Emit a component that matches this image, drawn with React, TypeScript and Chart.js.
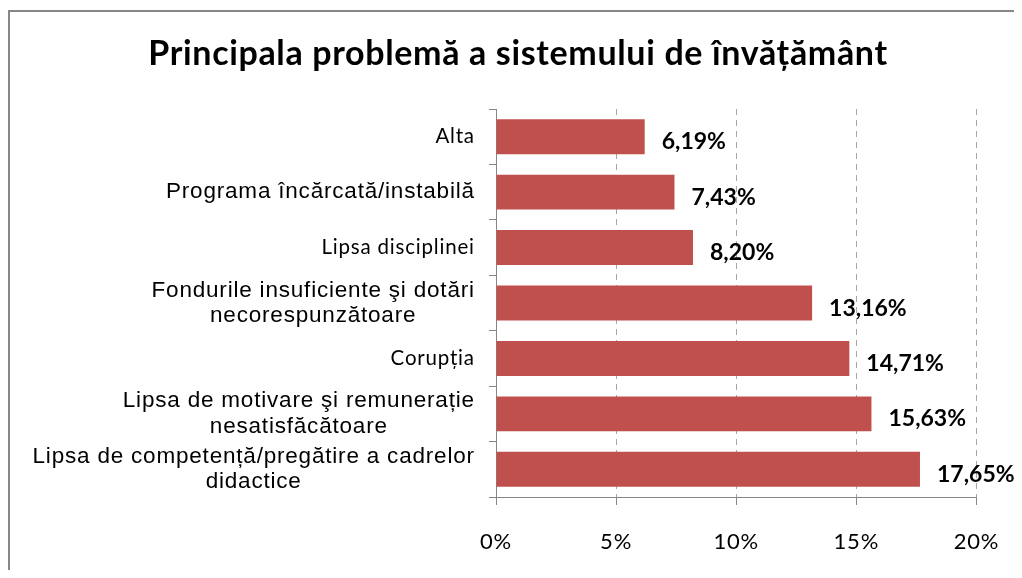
import React, { useEffect, useRef } from 'react';
import { Chart, registerables } from 'chart.js';

Chart.register(...registerables);

const TITLE = 'Principala problemă a sistemului de învățământ';

const categories: (string | string[])[] = [
  'Alta',
  'Programa încărcată/instabilă',
  'Lipsa disciplinei',
  ['Fondurile insuficiente şi dotări', 'necorespunzătoare'],
  'Corupția',
  ['Lipsa de motivare şi remunerație', 'nesatisfăcătoare'],
  ['Lipsa de competență/pregătire a cadrelor', 'didactice'],
];

const values = [6.19, 7.43, 8.2, 13.16, 14.71, 15.63, 17.65];

// categories whose label is set in the smaller (Calibri-like) face
const smallLabelIdx = [0, 2, 4];

const X_MIN = 0;
const X_MAX = 20;
const X_STEP = 5;

const BAR_COLOR = '#C0504D';
const AXIS_COLOR = '#868686';
const GRID_COLOR = '#A6A6A6';

const fmt = (v: number) => v.toFixed(2).replace('.', ',') + '%';

const W = 1014;
const H = 562;

const LABEL_LS = 0.8;
const Y_TICK_LEN = 7;
const Y_TICK_PAD = 15;

const labelFont = (i: number) =>
  smallLabelIdx.includes(i)
    ? { css: '20.5px Lato', size: 20.5 }
    : { css: '22.5px "Liberation Sans", Arial, sans-serif', size: 22.5 };

const overlay = {
  id: 'overlay',
  beforeDraw(chart: any) {
    chart.ctx.letterSpacing = LABEL_LS + 'px';
  },
  afterDraw(chart: any) {
    const ctx = chart.ctx as CanvasRenderingContext2D;
    ctx.save();
    // outer frame
    ctx.setLineDash([]);
    ctx.strokeStyle = '#878787';
    ctx.lineWidth = 2;
    ctx.strokeRect(1, 3, chart.width + 20, chart.height + 20);

    // title
    (ctx as any).letterSpacing = '0.65px';
    ctx.fillStyle = '#000';
    ctx.font = 'bold 34px Lato';
    ctx.textAlign = 'center';
    ctx.textBaseline = 'alphabetic';
    ctx.fillText(TITLE, 510, 57);

    // category labels: block right-aligned at the axis, lines centred in the block
    (ctx as any).letterSpacing = LABEL_LS + 'px';
    const yScale = chart.scales.y;
    const xr = yScale.right - Y_TICK_LEN - Y_TICK_PAD + LABEL_LS;
    ctx.textBaseline = 'middle';
    ctx.textAlign = 'center';
    categories.forEach((lab, i) => {
      const lines = Array.isArray(lab) ? lab : [lab];
      const f = labelFont(i);
      ctx.font = f.css;
      const blockW = Math.max(...lines.map((l) => ctx.measureText(l).width));
      const cx = xr - blockW / 2;
      const lh = f.size * 1.12;
      const yc = yScale.getPixelForTick(i);
      lines.forEach((l, j) => {
        ctx.fillText(l, cx, yc + (j - (lines.length - 1) / 2) * lh);
      });
    });

    // data labels
    (ctx as any).letterSpacing = '0px';
    ctx.font = 'bold 23px Lato';
    ctx.textAlign = 'left';
    ctx.textBaseline = 'alphabetic';
    const meta = chart.getDatasetMeta(0);
    meta.data.forEach((bar: any, i: number) => {
      ctx.fillText(fmt(values[i]), bar.x + 17, bar.y + 12.5);
    });
    ctx.restore();
  },
};

export default function App() {
  const ref = useRef<HTMLCanvasElement>(null);

  useEffect(() => {
    if (!ref.current) return;
    const chart = new Chart(ref.current, {
      type: 'bar',
      data: {
        labels: categories,
        datasets: [
          {
            data: values,
            backgroundColor: BAR_COLOR,
            borderWidth: 0,
            barPercentage: 0.9,
            categoryPercentage: 0.7,
          },
        ],
      },
      options: {
        indexAxis: 'y',
        animation: false,
        responsive: true,
        maintainAspectRatio: false,
        layout: { padding: { left: 0, top: 101, right: 42, bottom: 0 } },
        plugins: {
          legend: { display: false },
          title: { display: false },
          tooltip: { enabled: false },
        },
        scales: {
          x: {
            min: X_MIN,
            max: X_MAX,
            afterFit: (s: any) => {
              s.height = 73;
            },
            ticks: {
              stepSize: X_STEP,
              color: '#000',
              padding: 24,
              font: { family: 'Lato', size: 22, lineHeight: 1.2 },
              callback: (v: any) => v + '%',
              maxRotation: 0,
            },
            grid: {
              color: (c: any) => (c.tick && c.tick.value === 0 ? 'rgba(0,0,0,0)' : GRID_COLOR),
              tickColor: AXIS_COLOR,
              tickLength: 8,
              tickBorderDash: [],
              lineWidth: 1,
            },
            border: { display: true, color: AXIS_COLOR, width: 1, dash: [6, 5] },
          },
          y: {
            afterFit: (s: any) => {
              s.width = 488;
            },
            ticks: {
              display: false,
              autoSkip: false,
            },
            grid: {
              drawOnChartArea: false,
              offset: true,
              tickLength: Y_TICK_LEN,
              color: AXIS_COLOR,
            },
            border: { display: true, color: AXIS_COLOR, width: 1 },
          },
        },
      },
      plugins: [overlay],
    });
    return () => chart.destroy();
  }, []);

  return (
    <div style={{ width: W, height: H, position: 'relative' }}>
      <canvas ref={ref} />
    </div>
  );
}
